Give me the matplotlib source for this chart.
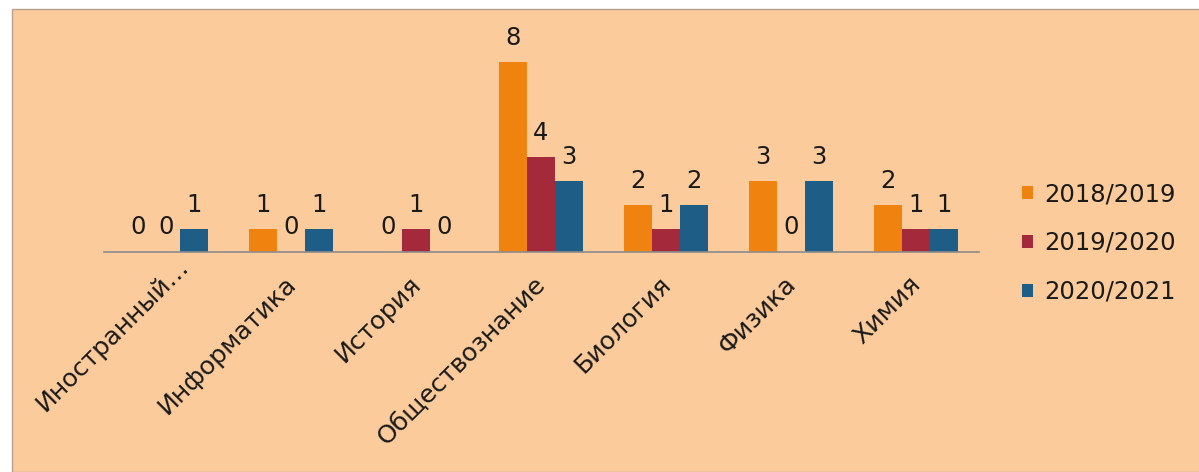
import matplotlib
matplotlib.use("Agg")
import matplotlib.pyplot as plt
import numpy as np
from matplotlib.patches import Rectangle
from matplotlib.transforms import ScaledTranslation

categories = ["Иностранный…", "Информатика", "История", "Обществознание",
              "Биология", "Физика", "Химия"]
series_names = ["2018/2019", "2019/2020", "2020/2021"]
s2018 = [0, 1, 0, 8, 2, 3, 2]
s2019 = [0, 0, 1, 4, 1, 0, 1]
s2020 = [1, 1, 0, 3, 2, 3, 1]
colors = ["#F0820F", "#A3293B", "#1E5E86"]

W, H = 1199, 472
fig = plt.figure(figsize=(W / 100, H / 100), dpi=100)
fig.patch.set_facecolor("white")
bg = "#FBCB9C"
fig.patches.append(Rectangle((12 / W, 0), 1, 1 - 9 / H, transform=fig.transFigure,
                             facecolor=bg, edgecolor="#B8A090", linewidth=1.0, zorder=-10))

x0, x1 = 103.5, 978.5
ybase = 252.5
ytop = ybase - 9 * 23.8
ax = fig.add_axes([x0 / W, 1 - ybase / H, (x1 - x0) / W, (ybase - ytop) / H])
ax.set_facecolor("none")

fs = 17.5
x = np.arange(len(categories))
bw = 28 / 125
data = [s2018, s2019, s2020]
for i, (vals, name, c) in enumerate(zip(data, series_names, colors)):
    pos = x + (i - 1) * bw
    ax.bar(pos, vals, width=bw, color=c, label=name, zorder=2)
    for p, v in zip(pos, vals):
        off = 13.5 if v == 0 else 12.2
        ax.annotate(str(v), (p, v), xytext=(0, off), textcoords="offset points",
                    ha="center", va="baseline", fontsize=fs, color="#1a1a1a")

ax.set_xlim(-0.5, len(categories) - 0.5)
ax.set_ylim(0, 9)
for s in ["top", "right", "left"]:
    ax.spines[s].set_visible(False)
ax.spines["bottom"].set_color("#8C8C8C")
ax.spines["bottom"].set_linewidth(1.2)
ax.set_yticks([])
ax.set_xticks(x)
labels = ax.set_xticklabels(categories, rotation=45, ha="right", va="center",
                            rotation_mode="anchor", fontsize=18.2, color="#1a1a1a")
ax.tick_params(axis="x", length=0, pad=20)
for k, lb in enumerate(labels):
    dx, dy = (19, 18) if k == 0 else (1, 0)
    lb.set_transform(lb.get_transform() +
                     ScaledTranslation(dx / 100, dy / 100, fig.dpi_scale_trans))

leg = ax.legend(loc="center left", bbox_to_anchor=(1000 / W, 1 - 243 / H),
                bbox_transform=fig.transFigure, frameon=False, fontsize=fs,
                handlelength=0.45, handleheight=0.45, handletextpad=0.45,
                labelspacing=1.02)
for t in leg.get_texts():
    t.set_color("#1a1a1a")

fig.savefig("out.png", dpi=100, facecolor=fig.get_facecolor())
